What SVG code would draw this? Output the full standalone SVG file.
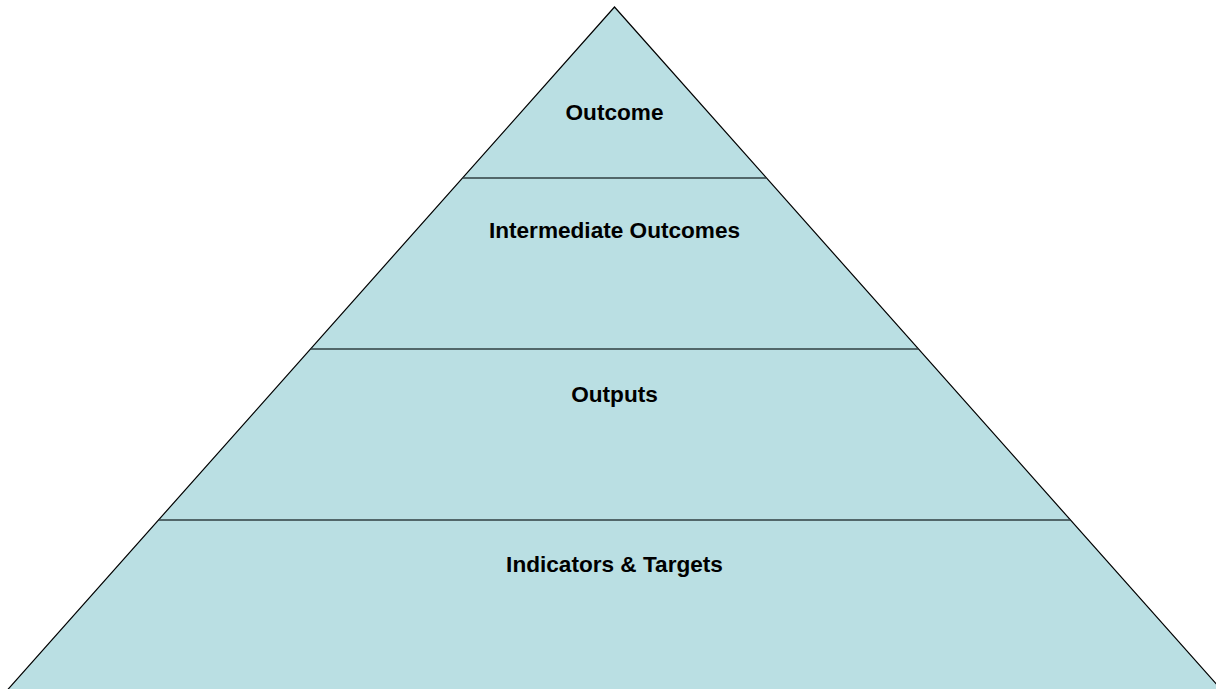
<svg xmlns="http://www.w3.org/2000/svg" width="1216" height="689" viewBox="0 0 1216 689">
<style>
.lbl{font-family:"Liberation Sans",Arial,sans-serif;font-weight:bold;font-size:22.6px;fill:#000;text-anchor:middle}
.div{stroke:#2f3f42;stroke-width:1.6;fill:none}
</style>
<rect width="1216" height="689" fill="#fff"/>
<g id="pyramid">
<polygon points="614.5,7 6.5,691 1222.5,691" fill="#badfe3" stroke="#000" stroke-width="1.2"/>
</g>
<g id="connectors">
<line class="div" x1="462.6" y1="178" x2="766.4" y2="178"/>
<line class="div" x1="310.8" y1="349" x2="918.2" y2="349"/>
<line class="div" x1="159" y1="520" x2="1070" y2="520"/>
</g>
<g id="outcome"><text class="lbl" x="614.5" y="120">Outcome</text></g>
<g id="intermediate"><text class="lbl" x="614.5" y="238">Intermediate Outcomes</text></g>
<g id="outputs"><text class="lbl" x="614.5" y="402">Outputs</text></g>
<g id="indicators"><text class="lbl" x="614.5" y="572">Indicators &amp; Targets</text></g>
</svg>
